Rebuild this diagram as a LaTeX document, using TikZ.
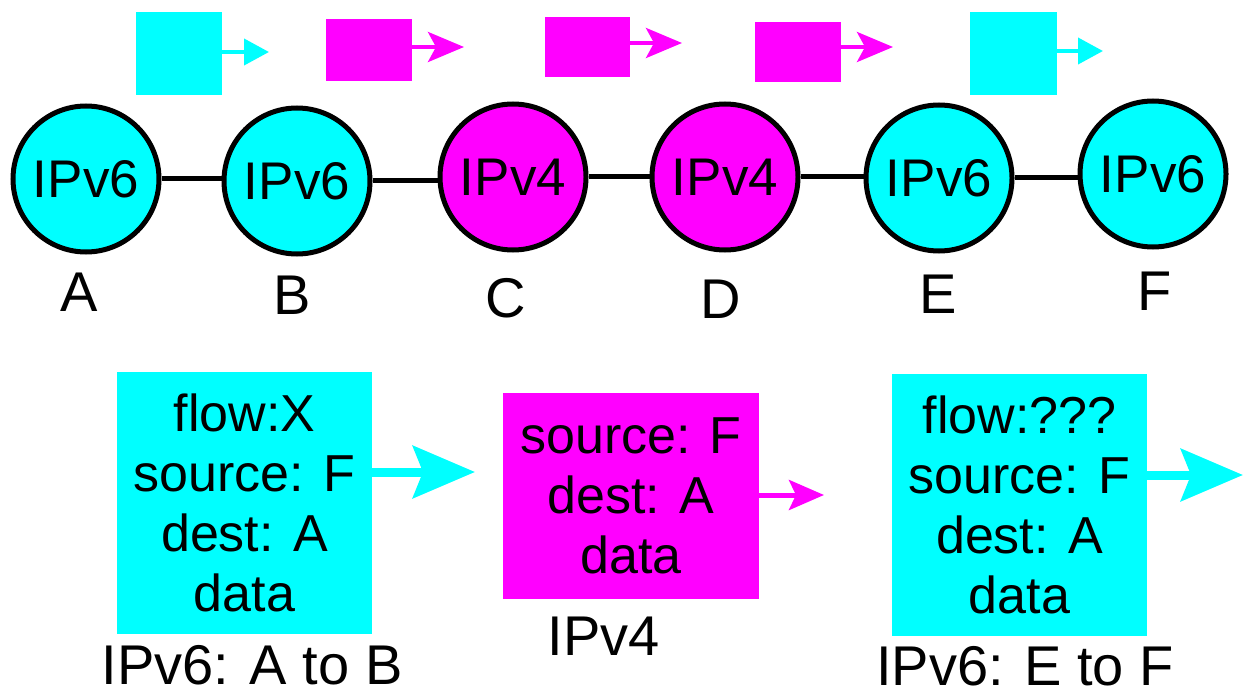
\documentclass[tikz,border=0pt]{standalone}
\usepackage{fontspec}
\setmainfont{Liberation Sans}
\usetikzlibrary{arrows.meta}
\definecolor{vsixcol}{RGB}{0,255,255}
\definecolor{vfourcol}{RGB}{255,0,255}
\newcommand{\vsix}{IPv6}
\newcommand{\vfour}{IPv4}

\begin{document}
\begin{tikzpicture}[x=1pt,y=-1pt,
  host/.style={circle,draw,line width=5pt,minimum size=146pt,inner sep=0pt,
    font=\fontsize{53}{60}\selectfont},
  tag/.style={inner sep=0pt,font=\fontsize{56}{60}\selectfont},
  pkt/.style={inner sep=0pt,align=center,font=\fontsize{52}{60}\selectfont},
  tinycyan/.style={vsixcol,line width=4pt,-{Triangle[length=25pt,width=26pt]}},
  tinymag/.style={vfourcol,line width=4pt,-{Stealth[length=36pt,width=30pt,inset=8pt]}},
  bigcyan/.style={vsixcol,line width=9pt,-{Stealth[length=62pt,width=52pt,inset=10pt]}},
  bigmag/.style={vfourcol,line width=5pt,-{Stealth[length=35pt,width=30pt,inset=7pt]}}]
  \useasboundingbox (0,0) rectangle (1244,695);

  \node[pkt,fill=vsixcol,minimum width=86pt,minimum height=83pt] (p1) at (179,53.5) {};
  \node[pkt,fill=vfourcol,minimum width=86pt,minimum height=62pt] (p2) at (369,50) {};
  \node[pkt,fill=vfourcol,minimum width=85pt,minimum height=60pt] (p3) at (587.5,47) {};
  \node[pkt,fill=vfourcol,minimum width=86pt,minimum height=60pt] (p4) at (798,52) {};
  \node[pkt,fill=vsixcol,minimum width=87pt,minimum height=83pt] (p5) at (1013.5,53.5) {};
  \coordinate (t1) at (269,52);
  \coordinate (t2) at (464,47);
  \coordinate (t3) at (682,43);
  \coordinate (t4) at (893,47);
  \coordinate (t5) at (1103,51);
  \draw[tinycyan] (p1.east |- t1) -- (t1);
  \draw[tinymag] (p2.east |- t2) -- (t2);
  \draw[tinymag] (p3.east |- t3) -- (t3);
  \draw[tinymag] (p4.east |- t4) -- (t4);
  \draw[tinycyan] (p5.east |- t5) -- (t5);

  \node[host,fill=vsixcol] (A) at (86,179) {\vsix};
  \node[host,fill=vsixcol] (B) at (297,181) {\vsix};
  \node[host,fill=vfourcol] (C) at (513,177) {\vfour};
  \node[host,fill=vfourcol] (D) at (725,177) {\vfour};
  \node[host,fill=vsixcol] (E) at (939,178) {\vsix};
  \node[host,fill=vsixcol] (F) at (1153,174) {\vsix};
  \draw[line width=5pt] (A.east) -- (B.west |- A.east);
  \draw[line width=5pt] (B.east) -- (C.west |- B.east);
  \draw[line width=5pt] (C.east) -- (D.west |- C.east);
  \draw[line width=5pt] (D.east) -- (E.west |- D.east);
  \draw[line width=5pt] (E.east) -- (F.west |- E.east);
  \node[tag] (la) at (79,292) {A};
  \node[tag] (lb) at (292,295) {B};
  \node[tag] (lc) at (506,298) {C};
  \node[tag] (ld) at (721,299) {D};
  \node[tag] (le) at (938,294) {E};
  \node[tag] (lf) at (1155,291) {F};

  \node[pkt,fill=vsixcol,minimum width=255pt,minimum height=262pt] (q1) at (244.5,503)
    {flow:X\\source: F\\dest: A\\data};
  \node[pkt,fill=vfourcol,minimum width=256pt,minimum height=206pt] (q2) at (631,496)
    {source: F\\dest: A\\data};
  \node[pkt,fill=vsixcol,minimum width=255pt,minimum height=262pt] (q3) at (1019.5,505)
    {flow:???\\source: F\\dest: A\\data};
  \coordinate (u1) at (475,472);
  \coordinate (u2) at (824,495);
  \coordinate (u3) at (1243,475);
  \draw[bigcyan] (q1.east |- u1) -- (u1);
  \draw[bigmag] (q2.east |- u2) -- (u2);
  \draw[bigcyan] (q3.east |- u3) -- (u3);
  \node[tag] (n1) at (252,665) {\vsix: A to B};
  \node[tag] (n2) at (604,636) {\vfour};
  \node[tag] (n3) at (1025,666) {\vsix: E to F};
\end{tikzpicture}
\end{document}
